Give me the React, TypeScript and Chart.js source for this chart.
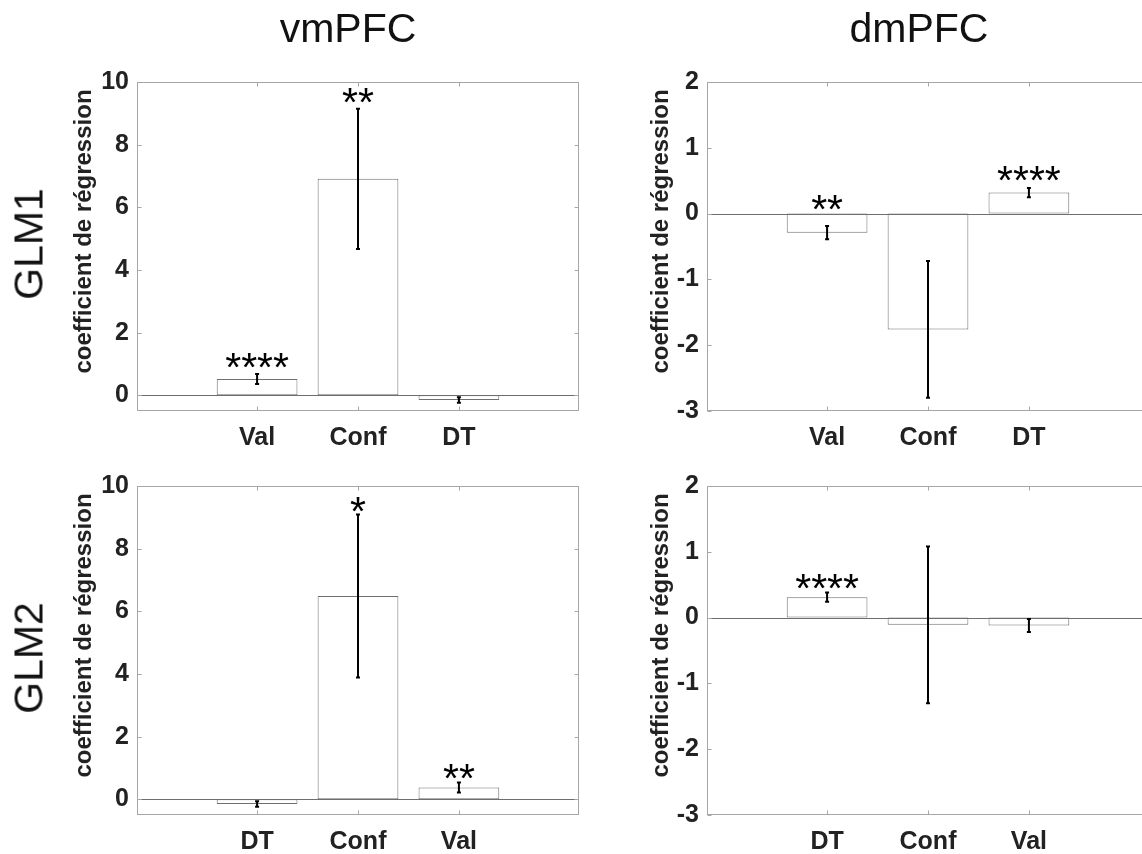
import React, { useEffect, useRef } from "react";
import { Chart, registerables } from "chart.js";
Chart.register(...registerables);

// ---------- data ----------
const columnTitles = ["vmPFC", "dmPFC"];
const rowTitles = ["GLM1", "GLM2"];
const yAxisLabel = "coefficient de régression";

const glm1Categories = ["Val", "Conf", "DT"];
const glm2Categories = ["DT", "Conf", "Val"];
const categoryPositions = [1, 2, 3];

const vmYTicks = [0, 2, 4, 6, 8, 10];
const dmYTicks = [-3, -2, -1, 0, 1, 2];

// vmPFC GLM1
const vmGlm1Values = [0.52, 6.91, -0.15];
const vmGlm1Errors = [0.16, 2.24, 0.09];
const vmGlm1Stars = ["****", "**", ""];
const vmGlm1StarY = [1.02, 9.46, 0];

// dmPFC GLM1
const dmGlm1Values = [-0.29, -1.76, 0.32];
const dmGlm1Errors = [0.1, 1.04, 0.07];
const dmGlm1Stars = ["**", "", "****"];
const dmGlm1StarY = [0.115, 0, 0.555];

// vmPFC GLM2
const vmGlm2Values = [-0.15, 6.49, 0.38];
const vmGlm2Errors = [0.09, 2.6, 0.16];
const vmGlm2Stars = ["", "*", "**"];
const vmGlm2StarY = [0, 9.31, 0.77];

// dmPFC GLM2
const dmGlm2Values = [0.31, -0.11, -0.12];
const dmGlm2Errors = [0.07, 1.19, 0.1];
const dmGlm2Stars = ["****", "", ""];
const dmGlm2StarY = [0.5, 0, 0];

// ---------- styling ----------
const FONT = "'Liberation Sans', Arial, Helvetica, sans-serif";
const TEXT = "#222222";
const BOX = "#a6a6a6";

type Panel = {
  categories: string[];
  values: number[];
  errors: number[];
  stars: string[];
  starY: number[];
  yMin: number;
  yMax: number;
  yTicks: number[];
  left: number;
  top: number;
  width: number;
  height: number;
  padTop: number;
  padRight: number;
  yWidth: number;
  xHeight: number;
  yTitleX: number;
};

const panelPlugin = {
  id: "matlabPanel",
  afterDatasetsDraw(chart: any, _args: any, opts: any) {
    const p: Panel = opts.panel;
    const { ctx, chartArea } = chart;
    const xs = chart.scales.x;
    const ys = chart.scales.y;
    ctx.save();
    // baseline at zero
    const y0 = Math.round(ys.getPixelForValue(0)) + 0.5;
    ctx.strokeStyle = "#6e6e6e";
    ctx.lineWidth = 1;
    ctx.beginPath();
    ctx.moveTo(chartArea.left, y0);
    ctx.lineTo(chartArea.right, y0);
    ctx.stroke();
    // error bars
    ctx.strokeStyle = "#000";
    ctx.lineWidth = 2;
    p.values.forEach((v, i) => {
      const x = xs.getPixelForValue(categoryPositions[i]);
      const yt = ys.getPixelForValue(v + p.errors[i]);
      const yb = ys.getPixelForValue(v - p.errors[i]);
      ctx.beginPath();
      ctx.moveTo(x, yt);
      ctx.lineTo(x, yb);
      ctx.moveTo(x - 2, yt);
      ctx.lineTo(x + 2, yt);
      ctx.moveTo(x - 2, yb);
      ctx.lineTo(x + 2, yb);
      ctx.stroke();
    });
    // significance stars
    ctx.fillStyle = "#000";
    ctx.font = `41px ${FONT}`;
    ctx.textAlign = "center";
    ctx.textBaseline = "alphabetic";
    p.stars.forEach((s, i) => {
      if (!s) return;
      const x = xs.getPixelForValue(categoryPositions[i]);
      const y = ys.getPixelForValue(p.starY[i]) + 0.42 * 41;
      ctx.fillText(s, x, y);
    });
    ctx.restore();
  },
  afterDraw(chart: any, _args: any, opts: any) {
    const p: Panel = opts.panel;
    const { ctx, chartArea } = chart;
    const xs = chart.scales.x;
    const ys = chart.scales.y;
    const L = Math.round(chartArea.left) + 0.5;
    const R = Math.round(chartArea.right) - 0.5;
    const T = Math.round(chartArea.top) + 0.5;
    const B = Math.round(chartArea.bottom) - 0.5;
    ctx.save();
    ctx.strokeStyle = BOX;
    ctx.lineWidth = 1;
    ctx.strokeRect(L, T, R - L, B - T);
    const tl = 4;
    ctx.beginPath();
    categoryPositions.forEach((c) => {
      const x = Math.round(xs.getPixelForValue(c)) + 0.5;
      ctx.moveTo(x, T);
      ctx.lineTo(x, T + tl);
      ctx.moveTo(x, B);
      ctx.lineTo(x, B - tl);
    });
    p.yTicks.forEach((t) => {
      const y = Math.round(ys.getPixelForValue(t)) + 0.5;
      ctx.moveTo(L, y);
      ctx.lineTo(L + tl, y);
      ctx.moveTo(R, y);
      ctx.lineTo(R - tl, y);
    });
    ctx.stroke();
    // y axis label (MATLAB places it slightly above the axes centre)
    ctx.fillStyle = TEXT;
    ctx.font = `bold 24px ${FONT}`;
    ctx.textAlign = "center";
    ctx.textBaseline = "middle";
    ctx.translate(p.yTitleX, (chartArea.top + chartArea.bottom) / 2 - 15);
    ctx.rotate(-Math.PI / 2);
    ctx.fillText(yAxisLabel, 0, 0);
    ctx.restore();
  },
};

function PanelChart({ p }: { p: Panel }) {
  const ref = useRef<HTMLCanvasElement | null>(null);
  useEffect(() => {
    if (!ref.current) return;
    const chart = new Chart(ref.current, {
      type: "bar",
      data: {
        datasets: [
          {
            data: p.values.map((v, i) => ({ x: categoryPositions[i], y: v })),
            backgroundColor: "#ffffff",
            borderColor: "#707070",
            borderWidth: 1,
            borderSkipped: false,
            barPercentage: 0.8,
            categoryPercentage: 1,
          } as any,
        ],
      },
      options: {
        animation: false,
        responsive: false,
        maintainAspectRatio: false,
        devicePixelRatio: 1,
        events: [],
        layout: { padding: { top: p.padTop, right: p.padRight, bottom: 0, left: 0 } },
        plugins: {
          legend: { display: false },
          tooltip: { enabled: false },
          matlabPanel: { panel: p },
        } as any,
        scales: {
          x: {
            type: "linear",
            offset: false,
            min: -0.19,
            max: 4.19,
            grid: { display: false, drawTicks: false, tickLength: 0, offset: false },
            border: { display: false },
            afterBuildTicks: (s: any) => {
              s.ticks = categoryPositions.map((v) => ({ value: v }));
            },
            afterFit: (s: any) => {
              s.height = p.xHeight;
            },
            ticks: {
              autoSkip: false,
              maxRotation: 0,
              minRotation: 0,
              padding: 12,
              color: TEXT,
              font: { family: FONT, size: 25, weight: "bold" },
              callback: (v: any) => {
                const i = categoryPositions.indexOf(Number(v));
                return i >= 0 ? p.categories[i] : "";
              },
            },
          },
          y: {
            type: "linear",
            min: p.yMin,
            max: p.yMax,
            grid: { display: false, drawTicks: false, tickLength: 0 },
            border: { display: false },
            afterBuildTicks: (s: any) => {
              s.ticks = p.yTicks.map((v) => ({ value: v }));
            },
            afterFit: (s: any) => {
              s.width = p.yWidth;
            },
            ticks: {
              padding: 8,
              color: TEXT,
              font: { family: FONT, size: 25, weight: "bold" },
              callback: (v: any) => String(v),
            },
          },
        },
      } as any,
      plugins: [panelPlugin as any],
    });
    return () => chart.destroy();
  }, [p]);
  return (
    <canvas
      ref={ref}
      width={p.width}
      height={p.height}
      style={{ position: "absolute", left: p.left, top: p.top, width: p.width, height: p.height }}
    />
  );
}

const colLeft = { left: 0, width: 600, padRight: 21, yWidth: 137, yTitleX: 84 };
const colRight = { left: 600, width: 560, padRight: 11, yWidth: 107, yTitleX: 61 };
const rowTop = { top: 0, height: 460, padTop: 82, xHeight: 49 };
const rowBottom = { top: 460, height: 394, padTop: 26, xHeight: 39 };

const panels: Panel[] = [
  {
    categories: glm1Categories, values: vmGlm1Values, errors: vmGlm1Errors, stars: vmGlm1Stars, starY: vmGlm1StarY,
    yMin: -0.5, yMax: 10, yTicks: vmYTicks, ...colLeft, ...rowTop,
  },
  {
    categories: glm1Categories, values: dmGlm1Values, errors: dmGlm1Errors, stars: dmGlm1Stars, starY: dmGlm1StarY,
    yMin: -3, yMax: 2, yTicks: dmYTicks, ...colRight, ...rowTop,
  },
  {
    categories: glm2Categories, values: vmGlm2Values, errors: vmGlm2Errors, stars: vmGlm2Stars, starY: vmGlm2StarY,
    yMin: -0.5, yMax: 10, yTicks: vmYTicks, ...colLeft, ...rowBottom,
  },
  {
    categories: glm2Categories, values: dmGlm2Values, errors: dmGlm2Errors, stars: dmGlm2Stars, starY: dmGlm2StarY,
    yMin: -3, yMax: 2, yTicks: dmYTicks, ...colRight, ...rowBottom,
  },
];

const bigText: React.CSSProperties = {
  position: "absolute",
  fontFamily: FONT,
  fontSize: 41,
  lineHeight: "41px",
  color: "#111",
  whiteSpace: "nowrap",
};

export default function App() {
  return (
    <div
      style={{
        position: "fixed",
        left: 0,
        top: 0,
        width: 1142,
        height: 854,
        overflow: "hidden",
        background: "#fff",
      }}
    >
      {panels.map((p, i) => (
        <PanelChart key={i} p={p} />
      ))}
      <div style={{ ...bigText, left: 348, top: 8, transform: "translateX(-50%)" }}>{columnTitles[0]}</div>
      <div style={{ ...bigText, left: 919, top: 8, transform: "translateX(-50%)" }}>{columnTitles[1]}</div>
      <div style={{ ...bigText, left: 29, top: 244, transform: "translate(-50%, -50%) rotate(-90deg)" }}>{rowTitles[0]}</div>
      <div style={{ ...bigText, left: 29, top: 658, transform: "translate(-50%, -50%) rotate(-90deg)" }}>{rowTitles[1]}</div>
    </div>
  );
}
